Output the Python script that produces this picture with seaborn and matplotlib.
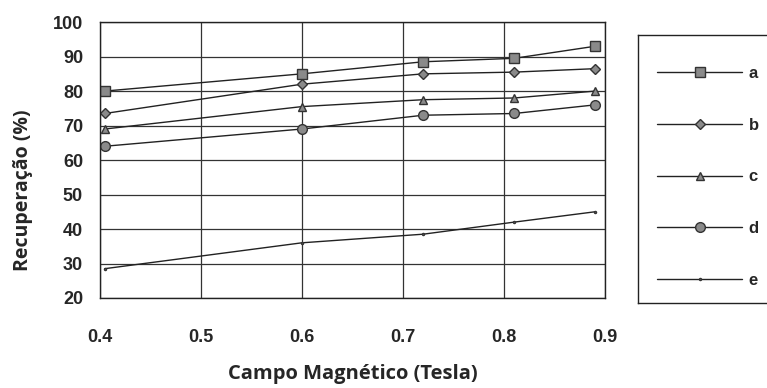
import matplotlib
matplotlib.use("Agg")
import matplotlib.pyplot as plt
import seaborn as sns
import pandas as pd

campo = [0.405, 0.6, 0.72, 0.81, 0.89]
serie_a = [80, 85, 88.5, 89.5, 93]
serie_b = [73.5, 82, 85, 85.5, 86.5]
serie_c = [69, 75.5, 77.5, 78, 80]
serie_d = [64, 69, 73, 73.5, 76]
serie_e = [28.5, 36, 38.5, 42, 45]
nomes = ["a", "b", "c", "d", "e"]
x_ticks = [0.4, 0.5, 0.6, 0.7, 0.8, 0.9]
y_ticks = [20, 30, 40, 50, 60, 70, 80, 90, 100]

valores = [serie_a, serie_b, serie_c, serie_d, serie_e]
rows = []
for nome, vals in zip(nomes, valores):
    for xv, yv in zip(campo, vals):
        rows.append({"Campo": xv, "Rec": yv, "serie": nome})
df = pd.DataFrame(rows)

sns.set_style("white")
plt.rcParams["font.family"] = ["Liberation Sans Narrow", "Liberation Sans", "DejaVu Sans"]

fig = plt.figure(figsize=(7.67, 3.88), dpi=100)
ax = fig.add_axes([0.130, 0.232, 0.659, 0.711])

markers = {"a": "s", "b": "D", "c": "^", "d": "o", "e": "."}
sizes = {"a": 6.5, "b": 5, "c": 6, "d": 7, "e": 3}
for nome in nomes:
    sub = df[df["serie"] == nome]
    sns.lineplot(data=sub, x="Campo", y="Rec", ax=ax, color="#222222",
                 linewidth=1.0, marker=markers[nome], markersize=sizes[nome],
                 markerfacecolor="#8a8a8a", markeredgecolor="#333333",
                 markeredgewidth=1.0, label=nome)

ax.set_xlim(0.4, 0.9)
ax.set_ylim(20, 100)
ax.set_xticks(x_ticks)
ax.set_yticks(y_ticks)
ax.set_xticklabels([f"{v:.1f}" for v in x_ticks], fontsize=13, fontweight="bold")
ax.set_yticklabels([str(v) for v in y_ticks], fontsize=13, fontweight="bold")
ax.tick_params(axis="x", pad=22, length=0)
ax.tick_params(axis="y", pad=12, length=0)
ax.grid(True, color="#333333", linewidth=0.9)
for s in ax.spines.values():
    s.set_color("#222222")
    s.set_linewidth(1.0)

ax.set_xlabel("Campo Magnético (Tesla)", fontsize=14.5, fontweight="bold",
              family=["Open Sans", "DejaVu Sans"], labelpad=13)
ax.set_ylabel("Recuperação (%)", fontsize=14, fontweight="bold",
              family=["Open Sans", "DejaVu Sans"])
ax.yaxis.set_label_coords(-0.132, 0.391)

if ax.get_legend():
    ax.get_legend().remove()
handles, labels = ax.get_legend_handles_labels()

# legend box as a separate framed panel
lax = fig.add_axes([638 / 767, 1 - 303 / 388, 0.2, 268 / 388])
lax.set_xticks([])
lax.set_yticks([])
lax.patch.set_alpha(0)
for s in lax.spines.values():
    s.set_color("#222222")
    s.set_linewidth(1.0)

leg = lax.legend(handles, labels, loc="upper left",
                 bbox_to_anchor=(657 / 767, 1 - 66 / 388),
                 bbox_transform=fig.transFigure, frameon=False,
                 prop={"size": 12, "weight": "bold"},
                 handlelength=5.1, labelspacing=2.2, borderpad=0,
                 handletextpad=0.4, borderaxespad=0)

fig.savefig("out.png", dpi=100)
